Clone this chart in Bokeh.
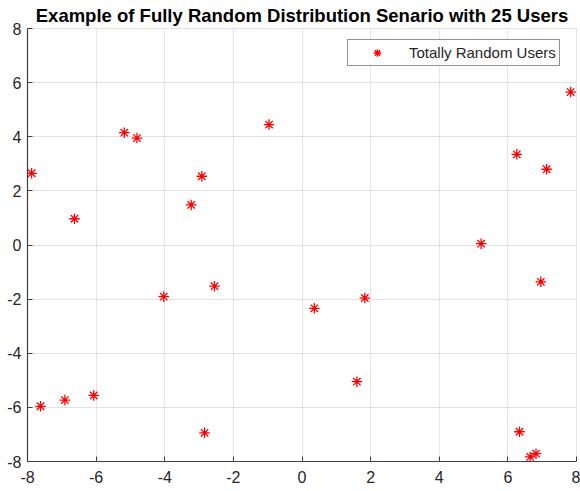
from bokeh.plotting import figure
from bokeh.models import FixedTicker, Range1d, ColumnDataSource, Legend, LegendItem, Title
from bokeh.embed import file_html
from bokeh.resources import INLINE

title_text = "Example of Fully Random Distribution Senario with 25 Users"
legend_label = "Totally Random Users"
ticks = [-8, -6, -4, -2, 0, 2, 4, 6, 8]
tick_labels = ["-8", "-6", "-4", "-2", "0", "2", "4", "6", "8"]

users_x = [-7.88, -6.63, -5.18, -4.81, -3.23, -2.92, -0.96,
           7.83, 6.26, 7.13, 5.22,
           -7.62, -6.91, -6.07, -4.03, -2.55, -2.84,
           0.36, 1.83, 1.60, 6.96, 6.34, 6.65, 6.82]
users_y = [2.65, 0.97, 4.15, 3.95, 1.48, 2.54, 4.45,
           5.65, 3.35, 2.80, 0.05,
           -5.96, -5.73, -5.56, -1.91, -1.52, -6.94,
           -2.34, -1.96, -5.05, -1.36, -6.90, -7.83, -7.71]

FONT = "Liberation Sans"
TXT = "#262626"

p = figure(width=580, height=491, output_backend="svg", toolbar_location=None,
           x_range=Range1d(-8, 8), y_range=Range1d(-8, 8),
           min_border_left=27, min_border_right=4, min_border_top=28, min_border_bottom=30)

p.title = Title(text=title_text, align="center", text_font=FONT, text_font_size="18.5px",
                text_font_style="bold", text_color="#000000", standoff=5)

src = ColumnDataSource(dict(x=users_x, y=users_y))
r = p.scatter("x", "y", source=src, marker="asterisk", size=10.5, line_color="#ff0000",
              fill_color="#ff0000", line_width=1.3)

overrides = {float(t): lab for t, lab in zip(ticks, tick_labels)}
for ax in (p.xaxis[0], p.yaxis[0]):
    ax.ticker = FixedTicker(ticks=ticks)
    ax.major_label_overrides = overrides
    ax.major_label_text_font = FONT
    ax.major_label_text_font_size = "16px"
    ax.major_label_text_color = TXT
    ax.axis_line_color = "#404040"
    ax.axis_line_width = 1.2
    ax.major_tick_in = 5
    ax.major_tick_out = 0
    ax.major_tick_line_color = "#404040"
    ax.minor_tick_line_color = None
p.xaxis.major_label_standoff = 9
p.yaxis.major_label_standoff = 6

p.grid.ticker = FixedTicker(ticks=ticks)
p.grid.grid_line_color = "#e3e3e3"
p.grid.grid_line_width = 1
p.outline_line_color = "#e3e3e3"
p.background_fill_color = "#ffffff"
p.border_fill_color = "#ffffff"

legend = Legend(items=[LegendItem(label=legend_label, renderers=[r])],
                location=(320, 395), padding=3, margin=0, spacing=0,
                glyph_width=52, glyph_height=19, label_height=16, label_standoff=6,
                label_text_font=FONT, label_text_font_size="15px", label_text_color=TXT,
                border_line_color="#262626", border_line_width=1,
                background_fill_color="#ffffff", background_fill_alpha=1)
p.add_layout(legend, "center")

open("out.html", "w").write(file_html(p, INLINE))
